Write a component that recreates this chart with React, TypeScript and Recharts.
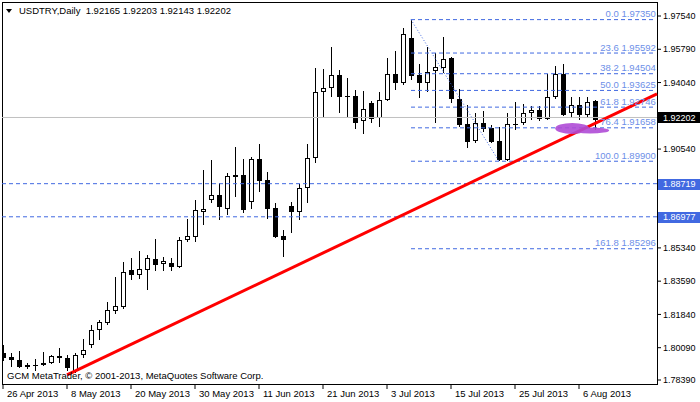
import React from "react";
import {
  ComposedChart,
  Bar,
  XAxis,
  YAxis,
  ReferenceLine,
  ReferenceDot,
  ReferenceArea,
} from "recharts";

// daily USDTRY bars, 26 Apr 2013 .. 9 Aug 2013
const opens = [
  1.7981, 1.796, 1.7945, 1.7916, 1.792, 1.7918, 1.7929, 1.7966, 1.7955, 1.7887,
  1.7971, 1.8024, 1.8102, 1.8139, 1.8202, 1.8223, 1.8418, 1.8392, 1.8418, 1.8476,
  1.845, 1.8455, 1.8434, 1.8576, 1.8592, 1.8723, 1.8786, 1.8813, 1.8739, 1.8918,
  1.8918, 1.8776, 1.9002, 1.8891, 1.8744, 1.8597, 1.8755, 1.8723, 1.8849, 1.9007,
  1.9354, 1.9375, 1.9444, 1.9333, 1.9333, 1.9202, 1.9296, 1.9218, 1.9312, 1.9449,
  1.9402, 1.9638, 1.9444, 1.9402, 1.9465, 1.9481, 1.9533, 1.9318, 1.9186, 1.9097,
  1.9191, 1.9165, 1.9097, 1.8995, 1.9188, 1.9191, 1.9244, 1.926, 1.9212, 1.9328,
  1.9449, 1.9244, 1.9286, 1.9233, 1.9307, 1.92165,
];
const highs = [
  1.8024, 1.7981, 1.7992, 1.7929, 1.795, 1.7987, 1.7971, 1.8008, 1.7971, 1.7981,
  1.8055, 1.8129, 1.8155, 1.825, 1.8381, 1.846, 1.8481, 1.8518, 1.8497, 1.8581,
  1.8486, 1.8481, 1.8592, 1.8686, 1.8786, 1.8944, 1.8997, 1.8876, 1.8928, 1.9065,
  1.9002, 1.9012, 1.9081, 1.8933, 1.877, 1.8628, 1.8776, 1.887, 1.9081, 1.9481,
  1.9475, 1.9591, 1.947, 1.9428, 1.9365, 1.936, 1.9307, 1.9354, 1.9533, 1.957,
  1.9691, 1.9735, 1.9502, 1.9591, 1.9559, 1.9644, 1.9538, 1.937, 1.9286, 1.9244,
  1.9254, 1.9181, 1.917, 1.9244, 1.9302, 1.9291, 1.9281, 1.9281, 1.9449, 1.9491,
  1.9502, 1.9328, 1.9328, 1.9328, 1.9312, 1.92203,
];
const lows = [
  1.7939, 1.7908, 1.7903, 1.7897, 1.7887, 1.7913, 1.7924, 1.7929, 1.7887, 1.7876,
  1.7955, 1.8008, 1.805, 1.8129, 1.8187, 1.8213, 1.8365, 1.8371, 1.8313, 1.8413,
  1.8413, 1.8413, 1.8429, 1.8565, 1.8565, 1.8655, 1.877, 1.8681, 1.8707, 1.8802,
  1.8718, 1.8739, 1.8828, 1.8686, 1.8586, 1.8486, 1.8613, 1.8681, 1.877, 1.8981,
  1.9223, 1.9328, 1.9244, 1.9223, 1.916, 1.9133, 1.9191, 1.917, 1.9307, 1.9365,
  1.9391, 1.9417, 1.9323, 1.9354, 1.9191, 1.9454, 1.9296, 1.917, 1.906, 1.9086,
  1.9144, 1.9086, 1.899, 1.8991, 1.9154, 1.9181, 1.9207, 1.9202, 1.9207, 1.9318,
  1.9228, 1.9218, 1.9207, 1.9218, 1.9154, 1.92143,
];
const closes = [
  1.7955, 1.7945, 1.7908, 1.791, 1.7918, 1.7929, 1.7966, 1.7955, 1.7903, 1.7971,
  1.7997, 1.8102, 1.8144, 1.8208, 1.8229, 1.8407, 1.8392, 1.8423, 1.8481, 1.8444,
  1.8465, 1.8434, 1.8576, 1.8597, 1.8734, 1.8739, 1.8813, 1.8749, 1.8912, 1.8907,
  1.8734, 1.9002, 1.8886, 1.8739, 1.8592, 1.8576, 1.8723, 1.8849, 1.9007, 1.9354,
  1.9375, 1.9444, 1.9328, 1.933, 1.9191, 1.9265, 1.9212, 1.9312, 1.9449, 1.9402,
  1.9659, 1.9438, 1.9402, 1.946, 1.9486, 1.9528, 1.9318, 1.9181, 1.9091, 1.9191,
  1.916, 1.9091, 1.8995, 1.9186, 1.9186, 1.9244, 1.926, 1.9212, 1.9328, 1.9449,
  1.9233, 1.9286, 1.9233, 1.9302, 1.9207, 1.92202,
];

const dateTicks = [0, 8, 16, 24, 32, 40, 48, 56, 64, 72];
const dateLabels = [
  "26 Apr 2013", "8 May 2013", "20 May 2013", "30 May 2013", "11 Jun 2013",
  "21 Jun 2013", "3 Jul 2013", "15 Jul 2013", "25 Jul 2013", "6 Aug 2013",
];
const priceTicks = [1.9754, 1.9579, 1.9404, 1.9054, 1.8534, 1.8359, 1.8184, 1.8009, 1.7839];

const fibRatios = ["0.0", "23.6", "38.2", "50.0", "61.8", "76.4", "100.0", "161.8"];
const fibPrices = [1.9735, 1.95592, 1.94504, 1.93625, 1.92746, 1.91658, 1.899, 1.85296];
const fibFrom = 51; // bar of the swing high
const fibTo = 62; // bar of the swing low
const fibEnd = 81.6;

const hLines = [1.88719, 1.86977];
const lastPrice = 1.92202;
const quote = [1.92165, 1.92203, 1.92143, 1.92202];

const trendStart = { bar: 8, price: 1.7866 };
const trendEnd = { bar: 81.75, price: 1.9344 };
const marker = { bar: 72.4, price: 1.916 };

const X_MIN = -0.125;
const X_MAX = 81.75;
const Y_MIN = 1.7818;
const Y_MAX = 1.98277;

const FONT = "'Liberation Sans', Arial, sans-serif";
const BLUE = "#4169e1";
const FIB_TEXT = "#6d8fe8";

const data = opens.map((o, i) => ({
  i,
  o,
  h: highs[i],
  l: lows[i],
  c: closes[i],
  range: [lows[i], highs[i]],
}));

function Candle(props: any) {
  const { x, y, width, height, payload } = props;
  const { o, h, l, c } = payload;
  const cx = Math.round(x + width / 2);
  const span = h - l || 1;
  const yAt = (v: number) => y + ((h - v) / span) * height;
  const top = Math.round(yAt(Math.max(o, c)));
  const bot = Math.round(yAt(Math.min(o, c)));
  return (
    <g>
      <line x1={cx + 0.5} x2={cx + 0.5} y1={Math.round(y)} y2={Math.round(y + height)} stroke="#000" />
      {c > o ? (
        <rect x={cx - 1.5} y={top + 0.5} width={4} height={Math.max(bot - top - 1, 0)} fill="#fff" stroke="#000" />
      ) : (
        <rect x={cx - 2} y={top} width={5} height={Math.max(bot - top, 1)} fill="#000" />
      )}
    </g>
  );
}

function DateTick({ x, y, payload }: any) {
  const label = dateLabels[dateTicks.indexOf(payload.value)];
  return (
    <text x={x + 4} y={y + 8} fill="#000" fontSize={9.5} fontFamily={FONT}>
      {label}
    </text>
  );
}

function axisTag(bg: string, value: number) {
  return (p: any) => (
    <g>
      <rect x={p.cx + 1} y={Math.round(p.cy) - 5} width={43} height={11} fill={bg} />
      <text x={p.cx + 6} y={p.cy + 3.5} fill="#fff" fontSize={9} fontFamily={FONT}>
        {value.toFixed(5)}
      </text>
    </g>
  );
}

export default function App() {
  return (
    <div style={{ position: "absolute", left: 0, top: 0, width: 700, height: 402, background: "#fff" }}>
      <ComposedChart width={700} height={402} data={data} margin={{ top: 2, right: 0, bottom: 0, left: 2 }}>
        <XAxis
          dataKey="i"
          type="number"
          domain={[X_MIN, X_MAX]}
          ticks={dateTicks}
          interval={0}
          height={18}
          axisLine={false}
          tickLine={{ stroke: "#000" }}
          tickSize={5}
          tickMargin={0}
          tick={<DateTick />}
          allowDataOverflow
        />
        <YAxis
          orientation="right"
          type="number"
          domain={[Y_MIN, Y_MAX]}
          ticks={priceTicks}
          interval={0}
          width={43}
          axisLine={false}
          tickLine={{ stroke: "#000" }}
          tickSize={4}
          tickMargin={2}
          tick={{ fill: "#000", fontSize: 9, fontFamily: FONT }}
          tickFormatter={(v: number) => v.toFixed(5)}
          allowDataOverflow
        />
        <ReferenceLine y={lastPrice} stroke="#c0c0c0" />
        {hLines.map((v) => (
          <ReferenceLine key={v} y={v} stroke={BLUE} strokeDasharray="4 3" />
        ))}
        {fibPrices.map((v) => (
          <ReferenceLine
            key={"f" + v}
            segment={[{ x: fibFrom, y: v }, { x: fibEnd, y: v }]}
            stroke={BLUE}
            strokeDasharray="4 3"
          />
        ))}
        <ReferenceLine
          segment={[{ x: fibFrom, y: fibPrices[0] }, { x: fibTo, y: fibPrices[6] }]}
          stroke={BLUE}
          strokeDasharray="1 2"
        />
        <Bar dataKey="range" barSize={5} isAnimationActive={false} shape={(p: any) => <Candle {...p} />} />
        {fibPrices.map((v, k) => (
          <ReferenceDot
            key={"fl" + v}
            x={fibEnd}
            y={v}
            r={0}
            shape={(p: any) => (
              <text x={p.cx} y={p.cy - 2.5} textAnchor="end" fill={FIB_TEXT} fontSize={9.5} fontFamily={FONT}>
                {fibRatios[k] + " " + v.toFixed(5)}
              </text>
            )}
          />
        ))}
        <ReferenceDot
          x={marker.bar}
          y={marker.price}
          r={0}
          shape={(p: any) => (
            <g fill="#b04cd6" opacity={0.9}>
              <ellipse cx={p.cx - 10} cy={p.cy - 0.5} rx={17} ry={5.5} />
              <ellipse cx={p.cx + 8} cy={p.cy + 1.5} rx={19} ry={3} />
            </g>
          )}
        />
        <ReferenceLine
          segment={[{ x: trendStart.bar, y: trendStart.price }, { x: trendEnd.bar, y: trendEnd.price }]}
          stroke="#ff0000"
          strokeWidth={3}
        />
        <ReferenceArea
          x1={X_MIN}
          x2={X_MAX}
          y1={Y_MIN}
          y2={Y_MAX}
          shape={(p: any) => (
            <rect x={p.x + 0.5} y={p.y + 0.5} width={p.width} height={p.height} fill="none" stroke="#000" />
          )}
        />
        <ReferenceDot x={X_MAX} y={lastPrice} r={0} shape={axisTag("#000", lastPrice)} />
        {hLines.map((v) => (
          <ReferenceDot key={"t" + v} x={X_MAX} y={v} r={0} shape={axisTag(BLUE, v)} />
        ))}
      </ComposedChart>
      <svg width={700} height={402} style={{ position: "absolute", left: 0, top: 0, pointerEvents: "none" }}>
        <polygon points="6,9 12,9 9,13" fill="#000" />
        <text x={19} y={14} fontSize={9.5} fontFamily={FONT} fill="#000" style={{ whiteSpace: "pre" }}>
          {"USDTRY,Daily  " + quote.map((q) => q.toFixed(5)).join(" ")}
        </text>
        <text x={7} y={379} fontSize={9.5} fontFamily={FONT} fill="#000">
          GCM MetaTrader, © 2001-2013, MetaQuotes Software Corp.
        </text>
      </svg>
    </div>
  );
}
